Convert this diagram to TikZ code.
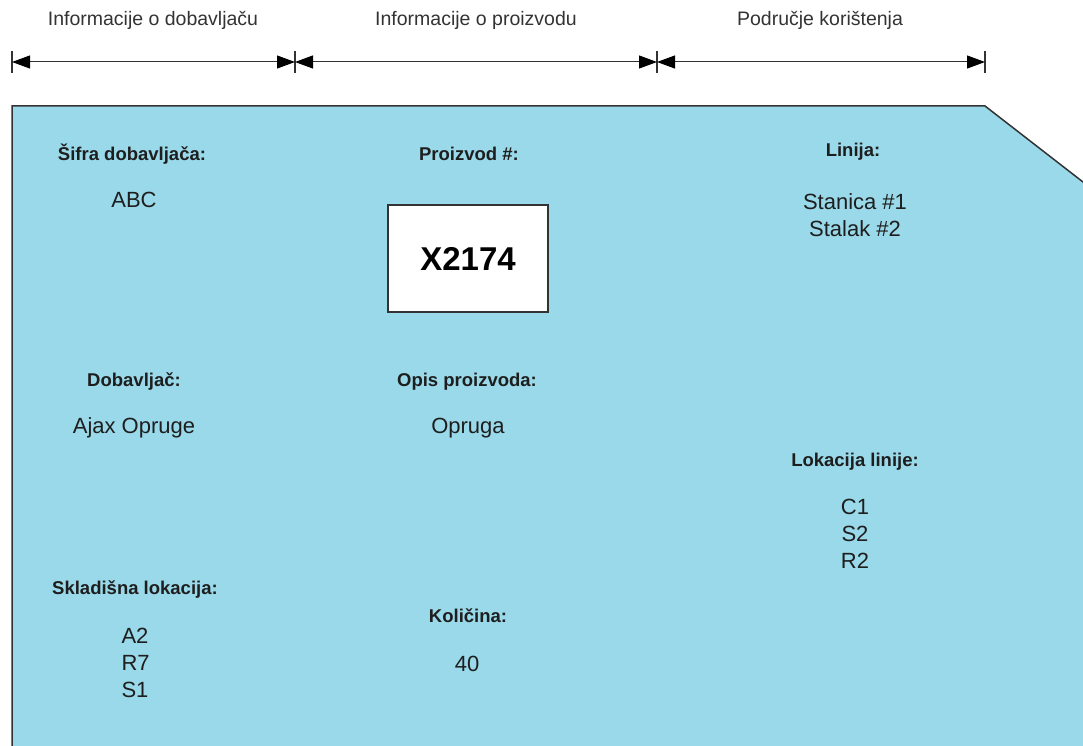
\documentclass[tikz,border=0pt]{standalone}
\usepackage{fontspec}
\setmainfont{Liberation Sans}
\usetikzlibrary{arrows.meta}
\definecolor{karta}{RGB}{153,217,233}
\definecolor{rub}{RGB}{51,51,51}
\definecolor{tekst}{RGB}{30,30,30}

\begin{document}
\begin{tikzpicture}[x=1pt, y=-1pt,
    naslov/.style={text=rub, font=\fontsize{19.5}{23}\selectfont},
    oznaka/.style={text=tekst, font=\fontsize{18.5}{22}\selectfont\bfseries},
    vrijednost/.style={text=tekst, font=\fontsize{22}{27}\selectfont, align=center},
    mjera/.style={draw=rub, line width=1pt, {Triangle[length=18pt,width=13pt,color=black]}-{Triangle[length=18pt,width=13pt,color=black]}}]
    \useasboundingbox (0, 0) rectangle (1083, 746);
    \clip (0, 0) rectangle (1083, 746);

    % kartica
    \draw[fill=karta, draw=rub, line width=1.5pt] (12, 760) -- (12, 106) -- (985, 106) -- (1095, 191.3) -- (1095, 760);

    % mjerne linije
    \coordinate (t0) at (12, 62);
    \coordinate (t1) at (295, 62);
    \coordinate (t2) at (657, 62);
    \coordinate (t3) at (985, 62);
    \foreach \t in {t0, t1, t2, t3}
        \draw[rub, line width=1.2pt] ([yshift=-11pt]\t) -- ([yshift=11pt]\t);
    \draw[mjera] (t0) -- (t1);
    \draw[mjera] (t1) -- (t2);
    \draw[mjera] (t2) -- (t3);

    % naslovi
    \node[naslov] (dob) at (153, 20) {Informacije o dobavljaču};
    \node[naslov] (pro) at (476, 20) {Informacije o proizvodu};
    \node[naslov] (kor) at (820, 20) {Područje korištenja};

    % lijevi stupac
    \node[oznaka] (sifraL) at (132, 154) {Šifra dobavljača:};
    \node[vrijednost] (sifraV) at (134, 200) {ABC};
    \node[oznaka] (dobavL) at (134, 382) {Dobavljač:};
    \node[vrijednost] (dobavV) at (134, 428) {Ajax Opruge};
    \node[oznaka] (skladL) at (135, 590) {Skladišna lokacija:};
    \node[vrijednost, align=left, anchor=west] (skladV) at (118, 663) {A2\\R7\\S1};

    % srednji stupac
    \node[oznaka] (proizL) at (469, 154) {Proizvod \#:};
    \node[draw=rub, fill=white, line width=1.2pt, minimum width=160pt, minimum height=107pt,
          text=black, font=\fontsize{33}{40}\selectfont\bfseries] (proizV) at (468, 258.5) {X2174};
    \node[oznaka] (opisL) at (467, 382) {Opis proizvoda:};
    \node[vrijednost] (opisV) at (468, 428) {Opruga};
    \node[oznaka] (kolL) at (468, 616) {Količina:};
    \node[vrijednost] (kolV) at (467, 664) {40};

    % desni stupac
    \node[oznaka] (linL) at (853, 152) {Linija:};
    \node[vrijednost] (linV) at (855, 215.5) {Stanica \#1\\Stalak \#2};
    \node[oznaka] (lokL) at (855, 462) {Lokacija linije:};
    \node[vrijednost] (lokV) at (855, 534) {C1\\S2\\R2};
\end{tikzpicture}
\end{document}
